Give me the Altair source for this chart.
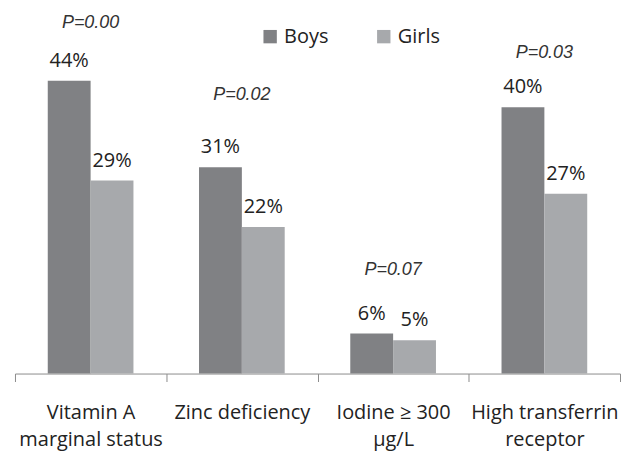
import altair as alt
import pandas as pd

categories = ["Vitamin A|marginal status", "Zinc deficiency", "Iodine ≥ 300|µg/L", "High transferrin|receptor"]
series = ["Boys", "Girls"]
boys = [44, 31, 6, 40]
girls = [29, 22, 5, 27]
p_labels = ["P=0.00", "P=0.02", "P=0.07", "P=0.03"]
p_heights = [52.7, 41.8, 15.6, 48.2]
colors = ["#808184", "#a7a9ac"]

rows = []
for c, b, g in zip(categories, boys, girls):
    rows.append({"cat": c, "sex": "Boys", "value": b, "label": f"{b}%"})
    rows.append({"cat": c, "sex": "Girls", "value": g, "label": f"{g}%"})
df = pd.DataFrame(rows)
pdf = pd.DataFrame({"cat": categories, "y": p_heights, "text": p_labels})

x = alt.X(
    "cat:N",
    sort=categories,
    scale=alt.Scale(paddingInner=0, paddingOuter=0),
    axis=alt.Axis(
        title=None,
        labelAngle=0,
        tickBand="extent",
        labelExpr="split(datum.label, '|')",
        labelFont="Open Sans",
        labelFontSize=20,
        labelColor="#222222",
        labelLineHeight=27,
        labelPadding=21,
        labelBaseline="top",
        tickSize=8,
        tickColor="#8c8c8c",
        domainColor="#8c8c8c",
        grid=False,
    ),
)
xoff = alt.XOffset("sex:N", sort=series, scale=alt.Scale(paddingInner=0, paddingOuter=0.765))
yscale = alt.Scale(domain=[0, 54.8], nice=False, zero=True)

bars = alt.Chart(df).mark_bar().encode(
    x=x,
    xOffset=xoff,
    y=alt.Y("value:Q", scale=yscale, axis=None),
    color=alt.Color(
        "sex:N",
        sort=series,
        scale=alt.Scale(domain=series, range=colors),
        legend=alt.Legend(
            title=None,
            orient="none",
            legendX=246,
            legendY=18,
            direction="horizontal",
            symbolType="square",
            symbolSize=180,
            symbolStrokeWidth=0,
            labelFont="Open Sans",
            labelFontSize=20,
            labelColor="#222222",
            labelOffset=4,
            columnPadding=45,
            padding=0,
        ),
    ),
)

values = alt.Chart(df).mark_text(
    dy=-14, baseline="alphabetic", fontSize=20, font="Open Sans", color="#222222"
).encode(
    x=x,
    xOffset=xoff,
    y=alt.Y("value:Q", scale=yscale, axis=None),
    text="label:N",
)

ptext = alt.Chart(pdf).mark_text(
    font="Liberation Sans", fontStyle="italic", fontSize=18, color="#333333", baseline="middle"
).encode(
    x=x,
    y=alt.Y("y:Q", scale=yscale, axis=None),
    text="text:N",
)

chart = (
    alt.layer(bars, values, ptext)
    .properties(width=607, height=366, padding={"left": 6, "top": 0, "right": 0, "bottom": 8})
    .configure_view(stroke=None)
)

chart.save("out.html", embed_options={"renderer": "svg", "actions": False})
